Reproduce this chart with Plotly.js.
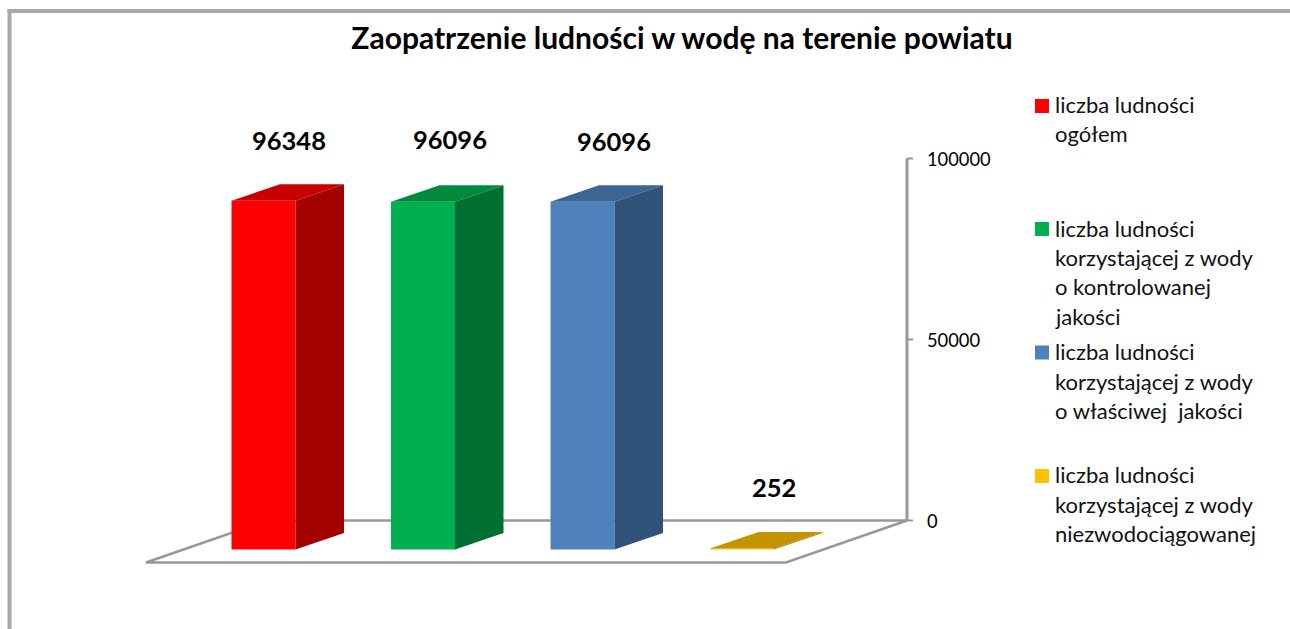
<!DOCTYPE html>
<html lang="pl">
<head>
<meta charset="utf-8">
<title>Zaopatrzenie ludności w wodę</title>
<script src="https://cdn.plot.ly/plotly-3.0.1.min.js"></script>
<style>html,body{margin:0;padding:0;background:#fff;overflow:hidden}#chart{width:1290px;height:629px}</style>
</head>
<body>
<div id="chart"></div>
<script>
// ---- data ----
const titleText = 'Zaopatrzenie ludności w wodę na terenie powiatu';
const seriesLines = [
  ['liczba ludności', 'ogółem'],
  ['liczba ludności', 'korzystającej z wody', 'o kontrolowanej', 'jakości'],
  ['liczba ludności', 'korzystającej z wody', 'o właściwej  jakości'],
  ['liczba ludności', 'korzystającej z wody', 'niezwodociągowanej']
];
const values = [96348, 96096, 96096, 252];
const axisTicks = [0, 50000, 100000];
const frontColors = ['#FF0000', '#00B050', '#4F81BD', '#FFC000'];
const sideColors  = ['#A50000', '#006F32', '#325379', '#A67F00'];
const topColors   = ['#C80000', '#008A3E', '#3D6594', '#C49400'];

// ---- drawing geometry ----
const W = 1290, H = 629;
const plot = {l: 100, r: 915, t: 100, b: 600};
const zeroPx = 520.5, pxPerUnit = 362 / 100000, catPx = 159.5, firstBarPx = 263.5;
const xFromPx = p => (p - firstBarPx) / catPx;
const yFromPx = p => (zeroPx - p) / pxPerUnit;
const pX = p => (p - plot.l) / (plot.r - plot.l);
const pY = p => (plot.b - p) / (plot.b - plot.t);

const barW = 64 / catPx;
const depthX = 48.5 / catPx, depthY = 16.5 / pxPerUnit;
const baseY = yFromPx(549.5);
const font = 'Lato, Carlito, Calibri, sans-serif';
const gray = '#989898';

const traces = [];
// front faces of the bars
values.forEach((v, i) => traces.push({
  type: 'bar', x: [i], y: [v], base: baseY, width: barW,
  name: seriesLines[i].join(' '), marker: {color: frontColors[i], line: {width: 0}},
  showlegend: false, hoverinfo: 'y'
}));
// side and top faces, derived from the same values
values.forEach((v, i) => {
  const x0 = i - barW / 2, x1 = i + barW / 2, top = baseY + v;
  const poly = (xs, ys, color) => traces.push({
    type: 'scatter', mode: 'lines', x: xs, y: ys, fill: 'toself', fillcolor: color,
    line: {width: 0, color: color}, showlegend: false, hoverinfo: 'skip'
  });
  poly([x1, x1 + depthX, x1 + depthX, x1, x1],
       [baseY, baseY + depthY, top + depthY, top, baseY], sideColors[i]);
  poly([x0, x0 + depthX, x1 + depthX, x1, x0],
       [top, top + depthY, top + depthY, top, top], topColors[i]);
});

// floor + vertical axis + frame
const fx = [146, 786, 907, 267].map(xFromPx);
const fy = [562.5, 562.5, 520.5, 520.5].map(yFromPx);
const axisX = xFromPx(907);
const shapes = [
  {type: 'path', layer: 'below', xref: 'x', yref: 'y',
   path: `M${fx[0]},${fy[0]} L${fx[1]},${fy[1]} L${fx[2]},${fy[2]} L${fx[3]},${fy[3]} Z`,
   line: {color: gray, width: 2.5}, fillcolor: 'rgba(0,0,0,0)'},
  {type: 'line', layer: 'below', xref: 'x', yref: 'y', x0: axisX, x1: axisX, y0: 0, y1: 100000,
   line: {color: gray, width: 3}},
  {type: 'line', xref: 'paper', yref: 'paper', x0: pX(9.5), x1: pX(9.5), y0: pY(9), y1: pY(H),
   line: {color: '#A9A9A9', width: 4}},
  {type: 'line', xref: 'paper', yref: 'paper', x0: pX(7.5), x1: pX(W), y0: pY(11), y1: pY(11),
   line: {color: '#A9A9A9', width: 4}}
];
// tick marks joined to the axis line
axisTicks.forEach(t => shapes.push({type: 'line', layer: 'below', xref: 'x', yref: 'y',
  x0: axisX, x1: xFromPx(913), y0: t, y1: t, line: {color: gray, width: 2}}));

const annotations = [];
// value labels, hand-placed above the bars in the reference
const labelShift = [[25.5, 61], [27, 63], [31.5, 61], [31.5, 62]];
values.forEach((v, i) => annotations.push({
  xref: 'x', yref: 'y', x: i, y: baseY + v, text: String(v), showarrow: false,
  xanchor: 'center', yanchor: 'middle', xshift: labelShift[i][0], yshift: labelShift[i][1],
  font: {family: font, size: 25.5, color: '#000', weight: 700}
}));
// legend
const legendTops = [[104, 134], [228, 257, 286, 316], [351, 381, 410], [474, 504, 533]];
const swatchTops = [99, 222, 345.5, 469];
seriesLines.forEach((lines, i) => {
  shapes.push({type: 'rect', xref: 'paper', yref: 'paper', x0: pX(1035), x1: pX(1049),
    y0: pY(swatchTops[i]), y1: pY(swatchTops[i] + 14), fillcolor: frontColors[i], line: {width: 0}});
  lines.forEach((t, j) => annotations.push({
    xref: 'paper', yref: 'paper', x: pX(1055), y: pY(legendTops[i][j]), text: t, showarrow: false,
    xanchor: 'left', yanchor: 'middle', xshift: -2, font: {family: font, size: 22, color: '#111'}
  }));
});

const layout = {
  width: W, height: H, autosize: false,
  paper_bgcolor: '#fff', plot_bgcolor: 'rgba(0,0,0,0)',
  margin: {l: plot.l, r: W - plot.r, t: plot.t, b: H - plot.b, pad: 0},
  title: {text: titleText, x: 682 / W, xanchor: 'center', y: 1 - 38 / H, yanchor: 'middle',
          font: {family: font, size: 30, color: '#000', weight: 700}},
  barmode: 'overlay', showlegend: false,
  xaxis: {range: [xFromPx(plot.l), xFromPx(plot.r)], visible: false, fixedrange: true},
  yaxis: {range: [yFromPx(plot.b), yFromPx(plot.t)], side: 'right', tickmode: 'array',
          tickvals: axisTicks, ticktext: axisTicks.map(String), ticks: '', showgrid: false,
          zeroline: false, showline: false, ticklabelstandoff: 11, ticklabelshift: 1,
          tickfont: {family: font, size: 18.3, color: '#000'}, fixedrange: true},
  shapes, annotations
};
Plotly.newPlot('chart', traces, layout, {displayModeBar: false, staticPlot: true});
</script>
</body>
</html>
